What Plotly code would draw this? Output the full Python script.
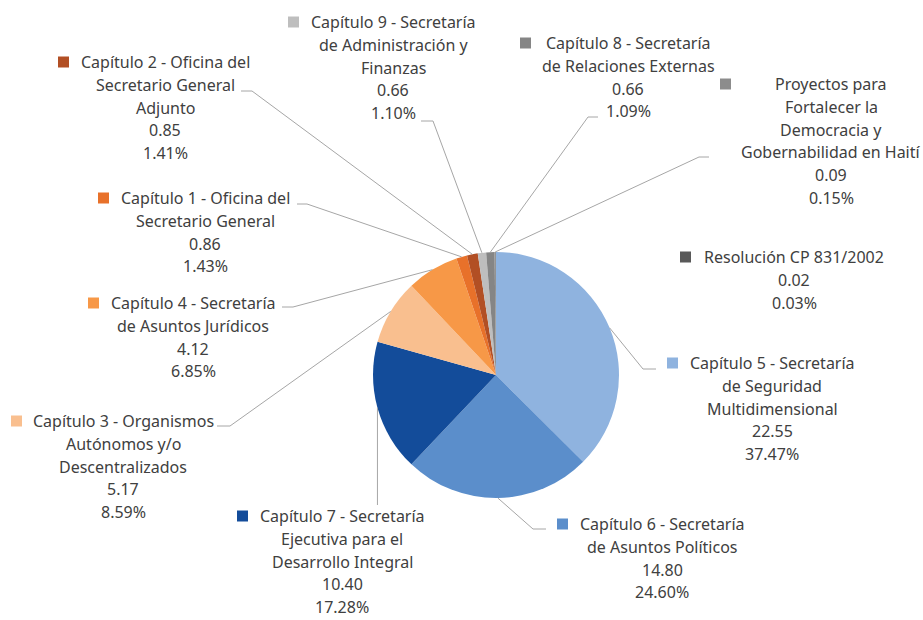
import math
import plotly.graph_objects as pgo

# Data (clockwise from 12 o'clock)
names = ["Capítulo 5 - Secretaría\nde Seguridad\nMultidimensional",
         "Capítulo 6 - Secretaría\nde Asuntos Políticos",
         "Capítulo 7 - Secretaría\nEjecutiva para el\nDesarrollo Integral",
         "Capítulo 3 - Organismos\nAutónomos y/o\nDescentralizados",
         "Capítulo 4 - Secretaría\nde Asuntos Jurídicos",
         "Capítulo 1 - Oficina del\nSecretario General",
         "Capítulo 2 - Oficina del\nSecretario General\nAdjunto",
         "Capítulo 9 - Secretaría\nde Administración y\nFinanzas",
         "Capítulo 8 - Secretaría\nde Relaciones Externas",
         "Proyectos para\nFortalecer la\nDemocracia y\nGobernabilidad en Haití",
         "Resolución CP 831/2002"]
values = [22.55, 14.80, 10.40, 5.17, 4.12, 0.86, 0.85, 0.66, 0.66, 0.09, 0.02]
percents = ["37.47%", "24.60%", "17.28%", "8.59%", "6.85%", "1.43%", "1.41%",
            "1.10%", "1.09%", "0.15%", "0.03%"]
colors = ["#8FB3DF", "#5B8ECB", "#134C9A", "#F9BF8F", "#F79847", "#E8712A",
          "#B24F24", "#BEBEBE", "#858585", "#8C8C8C", "#595959"]

# Layout (pixels): label block center x, first line y, square left x
label_cx = [772, 662, 342, 123, 193, 205, 165, 393, 628, 831, 794]
label_y0 = [363, 524, 516, 421, 303, 198, 62, 22, 43, 84, 257]
square_x = [667, 557, 237, 11, 88, 98, 58, 288, 520, 720, 680]
line_gap = 22.8
# leader lines: elbow point then end point (None = no leader)
leaders = [[(643, 369), (656, 369)],
           [(533, 529), (546, 529)],
           [(None, 505)],
           [(230, 426), (217, 426)],
           [(293, 307), (282, 307)],
           [(307, 204), (297, 204)],
           [(252, 91), (241, 91)],
           [(433, 121), (421, 121)],
           [(588, 117), (598, 117)],
           [(699, 157), (709, 157)],
           None]

W, H = 923, 620
cx, cy, r = 496, 375, 123

fig = pgo.Figure()
fig.add_trace(pgo.Pie(
    values=values, labels=[n.replace("\n", " ") for n in names],
    sort=False, direction="clockwise", rotation=0,
    marker=dict(colors=colors, line=dict(width=0)),
    textinfo="none", hoverinfo="skip", showlegend=False,
    domain=dict(x=[(cx - r) / W, (cx + r) / W], y=[1 - (cy + r) / H, 1 - (cy - r) / H]),
))
# invisible pixel axes for annotations/shapes
fig.add_trace(pgo.Scatter(x=[0, W], y=[0, H], mode="markers", marker=dict(opacity=0),
                          hoverinfo="skip", showlegend=False))

total = sum(values)
cum = 0
shapes = []
annotations = []
for i, v in enumerate(values):
    mid = (cum + v / 2) / total
    cum += v
    ang = 2 * math.pi * mid
    ex, ey = cx + r * math.sin(ang), cy - r * math.cos(ang)
    if leaders[i]:
        pts = [(ex, ey)] + [(ex if px is None else px, py) for px, py in leaders[i]]
        path = "M " + " L ".join(f"{px},{py}" for px, py in pts)
        shapes.append(dict(type="path", path=path, xref="x", yref="y",
                           line=dict(color="#A6A6A6", width=1)))
    lines = names[i].split("\n") + [f"{v:.2f}", percents[i]]
    for j, t in enumerate(lines):
        annotations.append(dict(x=label_cx[i], y=label_y0[i] + j * line_gap, xref="x", yref="y",
                                text=t, showarrow=False, xanchor="center", yanchor="middle",
                                font=dict(family="Noto Sans", size=16, color="#404040")))
    sy = label_y0[i]
    shapes.append(dict(type="rect", x0=square_x[i], x1=square_x[i] + 11, y0=sy - 5.5, y1=sy + 5.5,
                       xref="x", yref="y", fillcolor=colors[i], line=dict(width=0)))

fig.update_layout(
    width=W, height=H, margin=dict(l=0, r=0, t=0, b=0),
    paper_bgcolor="white", plot_bgcolor="rgba(0,0,0,0)",
    xaxis=dict(range=[0, W], visible=False, domain=[0, 1], fixedrange=True),
    yaxis=dict(range=[H, 0], visible=False, domain=[0, 1], fixedrange=True),
    shapes=shapes, annotations=annotations,
)

fig.write_html("out.html", config={'displayModeBar': False},
               post_script="document.body.style.margin='0';")
